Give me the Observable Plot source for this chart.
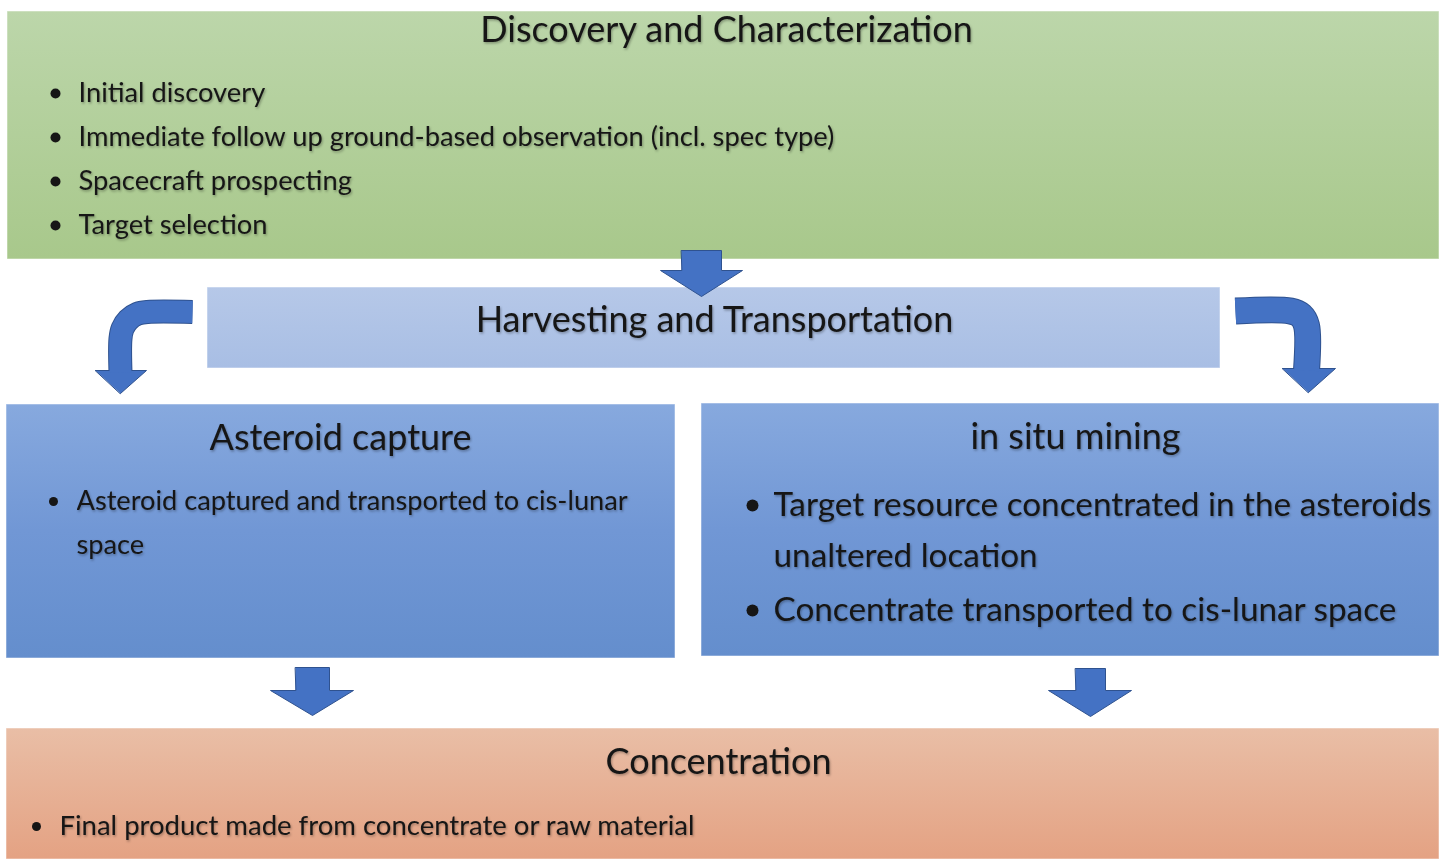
<!DOCTYPE html>
<html>
<head>
<meta charset="utf-8">
<script src="https://cdn.jsdelivr.net/npm/d3@7"></script>
<script src="https://cdn.jsdelivr.net/npm/@observablehq/plot@0.6"></script>
<style>
  html, body { margin: 0; padding: 0; background: #ffffff; }
  #chart svg { display: block; }
</style>
</head>
<body>
<div id="chart"></div>
<script>
// ---------- content ----------
const stageNames = ["Discovery and Characterization", "Harvesting and Transportation", "Asteroid capture", "in situ mining", "Concentration"];
const stageGradients = ["gGreen", "gHarvest", "gBlue", "gBlue", "gOrange"];
const discoveryItems = ["Initial discovery", "Immediate follow up ground-based observation (incl. spec type)", "Spacecraft prospecting", "Target selection"];
const captureItems = ["Asteroid captured and transported to cis-lunar", "space"];
const insituItems = ["Target resource concentrated in the asteroids", "unaltered location", "Concentrate transported to cis-lunar space"];
const concentrationItems = ["Final product made from concentrate or raw material"];

// ---------- layout (pixel frame of the diagram) ----------
const boxX1 = [7, 207, 6, 701, 6];
const boxX2 = [1439, 1220, 675, 1439, 1439];
const boxY1 = [11, 287, 404, 403, 728];
const boxY2 = [259, 368, 658, 656, 859];
const titleX = [726, 714, 340, 1075, 718];
const titleY = [30, 320, 438, 437, 762];
const titleSize = [36, 36, 36, 36, 36];

const discoveryY = [93, 137, 181, 225];
const captureY = [501, 545];
const insituY = [505, 556, 610];
const concentrationY = [826];

// straight block arrows (polygons)
const blockArrowX = [
  [681, 721, 721, 742, 701, 660, 681],
  [295, 329, 329, 353, 312, 270, 295],
  [1075, 1105, 1105, 1131, 1090, 1048, 1075]
];
const blockArrowY = [
  [250, 250, 270, 270, 296, 270, 270],
  [667, 667, 690, 690, 715, 690, 690],
  [668, 668, 690, 690, 716, 690, 690]
];
const bentShaftX = [[192, 147, 136.7, 127.9, 122.1, 120, 120], [1235, 1290, 1300.5, 1306, 1306]];
const bentShaftY = [[311.5, 311.5, 313.4, 319.2, 328, 338, 372], [310.5, 310.5, 315, 325, 370]];
const bentShaftW = [22, 25];
const bentHeadX = [[95, 146, 120], [1282, 1335, 1308]];
const bentHeadY = [[370, 370, 393], [368, 368, 392]];

// ---------- tables ----------
const boxes = stageNames.map((n, i) => ({name: n, x1: boxX1[i], x2: boxX2[i], y1: boxY1[i], y2: boxY2[i], fill: `url(#${stageGradients[i]})`}));
const titles = stageNames.map((n, i) => ({text: n, x: titleX[i], y: titleY[i], size: titleSize[i]}));

const bodyLines = [
  ...discoveryItems.map((t, i) => ({text: t, x: 78, y: discoveryY[i], size: 27.3, bullet: true, bx: 55, r: 5})),
  ...captureItems.map((t, i) => ({text: t, x: 76, y: captureY[i], size: 27.2, bullet: i === 0, bx: 53, r: 4.5})),
  ...insituItems.map((t, i) => ({text: t, x: 773, y: insituY[i], size: 33.3, bullet: i !== 1, bx: 752, r: 6})),
  ...concentrationItems.map((t, i) => ({text: t, x: 59, y: concentrationY[i], size: 27.5, bullet: true, bx: 36, r: 4.5}))
];
const bullets = bodyLines.filter(d => d.bullet);

const blockPts = blockArrowX.flatMap((xs, k) => xs.map((x, j) => ({id: k, x, y: blockArrowY[k][j]})));
const shaftPts = (k) => bentShaftX[k].map((x, j) => ({x, y: bentShaftY[k][j]}));
const headPts = bentHeadX.flatMap((xs, k) => xs.map((x, j) => ({id: k, x, y: bentHeadY[k][j]})));

const FONT = "Lato, 'Open Sans', sans-serif";
const ARROW = "#4472c4", ARROW_EDGE = "#2f528f", INK = "#161616";

const shaftMarks = [0, 1].flatMap(k => [
  Plot.line(shaftPts(k), {x: "x", y: "y", curve: "catmull-rom", stroke: ARROW_EDGE, strokeWidth: bentShaftW[k] + 2, strokeLinecap: "butt", strokeLinejoin: "round"})
]);
const shaftFill = [0, 1].map(k =>
  Plot.line(shaftPts(k), {x: "x", y: "y", curve: "catmull-rom", stroke: ARROW, strokeWidth: bentShaftW[k], strokeLinecap: "butt", strokeLinejoin: "round"})
);

const svg = Plot.plot({
  width: 1439,
  height: 859,
  margin: 0,
  x: {domain: [0, 1439], range: [0, 1439], axis: null},
  y: {domain: [0, 859], range: [0, 859], axis: null},
  r: {type: "identity"},
  color: {type: "identity"},
  style: {background: "white", fontFamily: FONT},
  marks: [
    Plot.rect(boxes, {x1: "x1", x2: "x2", y1: "y1", y2: "y2", fill: "fill", stroke: "#ffffff", strokeOpacity: 0.5, strokeWidth: 1}),
    // straight block arrows
    Plot.line(blockPts, {x: "x", y: "y", z: "id", curve: "linear-closed", fill: ARROW, stroke: ARROW_EDGE, strokeWidth: 1}),
    // bent arrows
    ...shaftMarks,
    Plot.line(headPts, {x: "x", y: "y", z: "id", curve: "linear-closed", fill: ARROW, stroke: ARROW_EDGE, strokeWidth: 1}),
    ...shaftFill,
    // titles
    Plot.text(titles, {x: "x", y: "y", text: "text", fontSize: "size", fill: INK, fontFamily: FONT, className: "shadowed"}),
    // bullets and body text
    Plot.dot(bullets, {x: "bx", y: "y", r: "r", fill: INK, stroke: null}),
    Plot.text(bodyLines, {x: "x", y: "y", text: "text", fontSize: "size", textAnchor: "start", fill: INK, fontFamily: FONT, className: "shadowed"})
  ]
});

// gradients and text shadow
const s = d3.select(svg);
const defs = s.insert("defs", ":first-child");
const grads = {
  gGreen: [["0%", "#bcd6aa"], ["100%", "#a8c88b"]],
  gHarvest: [["0%", "#b6c8e8"], ["100%", "#a8bee4"]],
  gBlue: [["0%", "#87a9de"], ["50%", "#7197d5"], ["100%", "#648ecd"]],
  gOrange: [["0%", "#e9bea6"], ["100%", "#e4a283"]]
};
for (const [id, stops] of Object.entries(grads)) {
  const g = defs.append("linearGradient").attr("id", id).attr("x1", 0).attr("y1", 0).attr("x2", 0).attr("y2", 1);
  for (const [o, c] of stops) g.append("stop").attr("offset", o).attr("stop-color", c);
}
const f = defs.append("filter").attr("id", "tshadow").attr("x", "-5%").attr("y", "-20%").attr("width", "110%").attr("height", "150%");
f.append("feDropShadow").attr("dx", 1).attr("dy", 1.5).attr("stdDeviation", 1).attr("flood-color", "#000").attr("flood-opacity", 0.3);
s.selectAll(".shadowed").attr("filter", "url(#tshadow)");

document.getElementById("chart").appendChild(svg);
</script>
</body>
</html>
